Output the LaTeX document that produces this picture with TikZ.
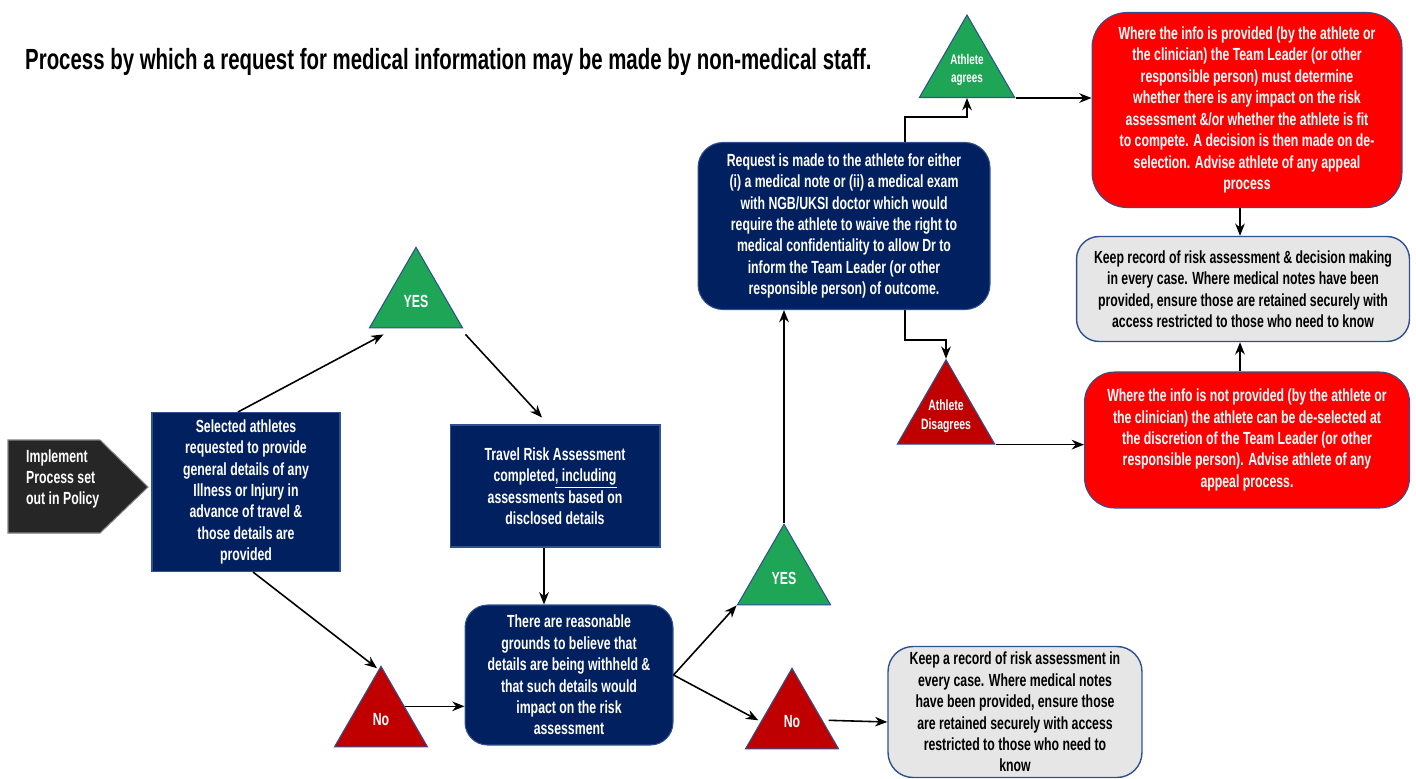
\documentclass[tikz,border=0pt]{standalone}
\usepackage{fontspec}
\setmainfont{Liberation Sans}[FakeStretch=0.7]
\usepackage{xcolor}
\usepackage{tikz}
\usetikzlibrary{arrows.meta, positioning, shapes.geometric, calc}
\definecolor{navy}{HTML}{002060}
\definecolor{edge}{HTML}{2F528F}
\definecolor{okgreen}{HTML}{1FA556}
\definecolor{nored}{HTML}{C00000}
\definecolor{alarm}{HTML}{FF0000}
\definecolor{paper}{HTML}{E6E6E6}
\definecolor{ink}{HTML}{262626}

\begin{document}
\begin{tikzpicture}[x=0.02cm, y=-0.02cm,
  every node/.style={font=\bfseries\fontsize{10}{12.2}\selectfont, align=center},
  navybox/.style={fill=navy, draw=edge, line width=0.6pt, text=white, inner sep=0pt},
  redbox/.style={fill=alarm, draw=edge, line width=0.6pt, text=white, inner sep=0pt},
  greybox/.style={fill=paper, draw=edge, line width=0.8pt, text=black, inner sep=0pt},
  tri/.style={regular polygon, regular polygon sides=3, minimum size=#1, inner sep=0pt,
    draw=edge, line width=0.6pt},
  tri/.default=2.15cm,
  link/.style={line width=0.9pt, -{Stealth[length=7pt, width=5.5pt]}}]
  \useasboundingbox (0,0) rectangle (1416,778);

  \node[anchor=west, font=\bfseries\fontsize{16.6}{19}\selectfont] (title) at (19,62)
    {Process by which a request for medical information may be made by non-medical staff.};

  % start marker
  \filldraw[fill=ink, draw=gray, line width=0.6pt] (8,440) -- (100,440) -- (148,487) -- (100,533) -- (8,533) -- cycle;
  \node[anchor=west, align=left, text=white] (impl) at (20,479) {Implement\\Process set\\out in Policy};

  \node[navybox, minimum width=3.76cm, minimum height=3.18cm] (sel) at (246,492)
    {Selected athletes\\requested to provide\\general details of any\\Illness or Injury in\\advance of travel \&\\those details are\\provided};
  \node[navybox, minimum width=4.2cm, minimum height=2.44cm] (trav) at (555,486)
    {Travel Risk Assessment\\completed\underline{, including}\\assessments based on\\disclosed details};
  \node[navybox, rounded corners=0.45cm, minimum width=4.16cm, minimum height=2.8cm] (grounds) at (569,675)
    {There are reasonable\\grounds to believe that\\details are being withheld \&\\that such details would\\impact on the risk\\assessment};
  \node[navybox, rounded corners=0.5cm, minimum width=5.84cm, minimum height=3.34cm] (req) at (844,226)
    {Request is made to the athlete for either\\(i) a medical note or (ii) a medical exam\\with NGB/UKSI doctor which would\\require the athlete to waive the right to\\medical confidentiality to allow Dr to\\inform the Team Leader (or other\\responsible person) of outcome.};

  \node[redbox, rounded corners=0.7cm, minimum width=6.2cm, minimum height=3.9cm] (redtop) at (1247,110)
    {Where the info is provided (by the athlete or\\the clinician) the Team Leader (or other\\responsible person) must determine\\whether there is any impact on the risk\\assessment \&/or whether the athlete is fit\\to compete. A decision is then made on de-\\selection. Advise athlete of any appeal\\process};
  \node[greybox, rounded corners=0.45cm, minimum width=6.66cm, minimum height=2.1cm] (greytop) at (1243,289)
    {Keep record of risk assessment \& decision making\\in every case. Where medical notes have been\\provided, ensure those are retained securely with\\access restricted to those who need to know};
  \node[redbox, rounded corners=0.6cm, minimum width=6.5cm, minimum height=2.72cm] (redbot) at (1247,440)
    {Where the info is not provided (by the athlete or\\the clinician) the athlete can be de-selected at\\the discretion of the Team Leader (or other\\responsible person). Advise athlete of any\\appeal process.};
  \node[greybox, rounded corners=0.5cm, minimum width=5.08cm, minimum height=2.62cm] (greybot) at (1015,712)
    {Keep a record of risk assessment in\\every case. Where medical notes\\have been provided, ensure those\\are retained securely with access\\restricted to those who need to\\know};

  % decision triangles
  \node[tri, fill=okgreen, label={[text=white]center:YES}] (yes1) at (416,301) {};
  \node[tri, fill=nored, label={[text=white]center:No}] (no1) at (381,720) {};
  \node[tri, fill=okgreen, label={[text=white]center:YES}] (yes2) at (784,578) {};
  \node[tri, fill=nored, label={[text=white]center:No}] (no2) at (792,722) {};
  \node[tri=2.2cm, fill=okgreen, label={[text=white, font=\bfseries\fontsize{8}{10}\selectfont]center:Athlete\\agrees}] (agree) at (967,70) {};
  \node[tri=2.25cm, fill=nored, label={[text=white, font=\bfseries\fontsize{8.5}{11}\selectfont]center:Athlete\\Disagrees}] (disagree) at (946,416) {};

  \draw[link] ($(sel.north)+(-8,0)$) -- ($(yes1.corner 2)+(15,6)$);
  \draw[link] ($(yes1.corner 3)+(2,6)$) -- ($(trav.north)+(-13,-7)$);
  \draw[link] ($(trav.south)+(-11,0)$) -- ($(grounds.north)+(-25,0)$);
  \draw[link] ($(sel.south)+(7,0)$) -- ($(no1.corner 1)+(-4,3)$);
  \draw[link] (no1.side 3) -- (no1.side 3 -| grounds.west);
  \draw[link] (grounds.east) -- (yes2.corner 2);
  \draw[link] (grounds.east) -- ($(no2.side 1)+(-10,12)$);
  \draw[link] (yes2.corner 1) -- (yes2.corner 1 |- req.south);
  \draw[link] ($(req.north)+(61,0)$) -- ++(0,-25) -| (agree.side 2);
  \draw[link] ($(req.south)+(61,0)$) -- ++(0,30) -| (disagree.corner 1);
  \draw[link] (agree.corner 3) -- (agree.corner 3 -| redtop.west);
  \draw[link] (disagree.corner 3) -- (disagree.corner 3 -| redbot.west);
  \draw[link] ($(redtop.south)+(-7,0)$) -- ($(greytop.north)+(-3,0)$);
  \draw[link] ($(redbot.north)+(-7,0)$) -- ($(greytop.south)+(-3,0)$);
  \draw[link] ($(no2.side 3)+(13,12)$) -- ($(greybot.west)+(0,10)$);
\end{tikzpicture}
\end{document}
